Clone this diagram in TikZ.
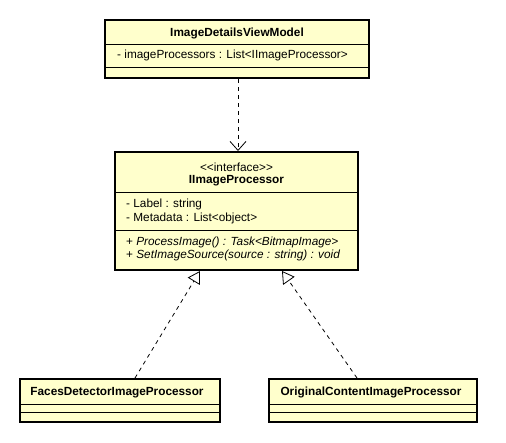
\documentclass[tikz,border=0pt]{standalone}
\usepackage{fontspec}
\setmainfont{Liberation Sans}
\usetikzlibrary{arrows.meta}
\definecolor{umlfill}{HTML}{FFFFCC}
\tikzset{
  umlbox/.style={draw=black, line width=2pt, fill=umlfill, inner sep=0pt},
  divider/.style={line width=1pt},
  ttl/.style={font=\fontsize{11.8}{13}\selectfont\bfseries, inner sep=0pt},
  txt/.style={font=\fontsize{11.8}{13}\selectfont, inner sep=0pt, anchor=west},
  dep/.style={dashed, dash pattern=on 4pt off 4pt, line width=0.8pt, -{Straight Barb[length=9pt,width=16pt,line width=0.8pt]}},
  real/.style={dashed, dash pattern=on 4pt off 4pt, line width=0.8pt, -{Triangle[open,length=12pt,width=14pt,line width=0.8pt,fill=white]}},
}
\begin{document}
\begin{tikzpicture}[x=1pt,y=-1pt]
\useasboundingbox (0,0) rectangle (506,442);
% ImageDetailsViewModel
\node[umlbox, minimum width=264pt, minimum height=58pt] (vm) at (237,49) {};
\draw[divider] (105,44) -- (369,44);
\draw[divider] (105,67) -- (369,67);
\node[ttl] (vmt) at (237,33.5) {ImageDetailsViewModel};
\node[txt] (vma) at (117,55.5) {- imageProcessors : List\textless IImageProcessor\textgreater};
% IImageProcessor
\node[umlbox, minimum width=243pt, minimum height=118pt] (ip) at (236.5,211) {};
\draw[divider] (115,192) -- (358,192);
\draw[divider] (115,230) -- (358,230);
\node[inner sep=0pt, font=\fontsize{11.8}{13}\selectfont] (ips) at (236.5,167.5) {<\kern0pt<interface>\kern0pt>};
\node[ttl] (ipt) at (236.5,181) {IImageProcessor};
\node[txt] (ipa1) at (126,204.5) {- Label : string};
\node[txt] (ipa2) at (126,218) {- Metadata : List\textless object\textgreater};
\node[txt] (ipm1) at (126,242) {+ \textit{ProcessImage() : Task\textless BitmapImage\textgreater}};
\node[txt] (ipm2) at (126,255) {+ \textit{SetImageSource(source : string) : void}};
% FacesDetectorImageProcessor
\node[umlbox, minimum width=200pt, minimum height=43pt] (fd) at (119.5,400.5) {};
\draw[divider] (19.5,404) -- (219.5,404);
\draw[divider] (19.5,412) -- (219.5,412);
\node[ttl] (fdt) at (117,392.5) {FacesDetectorImageProcessor};
% OriginalContentImageProcessor
\node[umlbox, minimum width=208pt, minimum height=43pt] (oc) at (373,400.5) {};
\draw[divider] (269,404) -- (477,404);
\draw[divider] (269,412) -- (477,412);
\node[ttl] (oct) at (371,392.5) {OriginalContentImageProcessor};
% connectors
\draw[dep] ([xshift=1pt]vm.south) -- ([xshift=1.5pt]ip.north);
\draw[real] ([xshift=15.5pt]fd.north) -- ([xshift=-36.5pt]ip.south);
\draw[real] ([xshift=-16pt]oc.north) -- ([xshift=45.5pt]ip.south);
\end{tikzpicture}
\end{document}
